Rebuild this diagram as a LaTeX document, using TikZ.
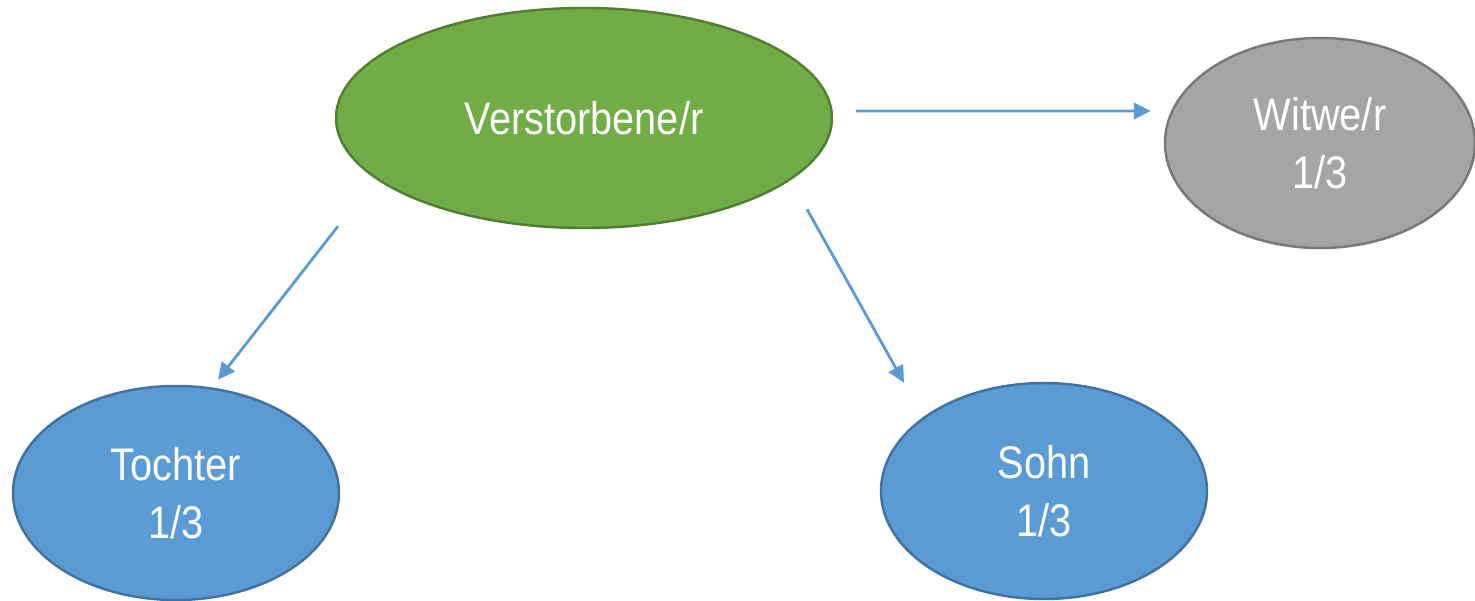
\documentclass[tikz,border=0pt]{standalone}
\usepackage{fontspec}
\usepackage{tikz}
\usetikzlibrary{shapes.geometric,arrows.meta}
\usepackage{xcolor}
\newfontfamily\labelfont{Liberation Sans}[FakeStretch=0.87]
\definecolor{greenfill}{HTML}{70AD47}
\definecolor{greenline}{HTML}{507E32}
\definecolor{grayfill}{HTML}{A5A5A5}
\definecolor{grayline}{HTML}{787878}
\definecolor{bluefill}{HTML}{5B9BD5}
\definecolor{blueline}{HTML}{41719C}
\definecolor{arrowblue}{HTML}{5B9BD5}

\tikzset{
  person/.style={ellipse, inner sep=0pt, line width=0.7pt, text=white, align=center,
    font=\labelfont\fontsize{13}{16.5}\selectfont},
  share/.style={-{Triangle[length=4.8pt,width=4.6pt]}, draw=arrowblue, line width=0.8pt}
}

\begin{document}
\begin{tikzpicture}

  % bounding box
  \useasboundingbox (0,0) rectangle (14.75,6);

  % deceased
  \node [person, fill=greenfill, draw=greenline, minimum width=4.96cm, minimum height=2.2cm]
    (verst) at (5.84, 4.82) {Verstorbene/r};

  % heirs
  \node [person, fill=grayfill, draw=grayline, minimum width=3.1cm, minimum height=2.1cm]
    (witwe) at (13.20, 4.57) {Witwe/r\\1/3};
  \node [person, fill=bluefill, draw=blueline, minimum width=3.26cm, minimum height=2.14cm]
    (tochter) at (1.76, 1.07) {Tochter\\1/3};
  \node [person, fill=bluefill, draw=blueline, minimum width=3.26cm, minimum height=2.16cm]
    (sohn) at (10.44, 1.09) {Sohn\\1/3};

  % arrows
  \draw [share] ([shift={(0.23,0.07)}]verst.east) -- ([shift={(-0.13,0.32)}]witwe.west);
  \draw [share] ([shift={(-2.46,0.03)}]verst.south) -- ([shift={(0.42,0.05)}]tochter.north);
  \draw [share] ([shift={(2.23,0.20)}]verst.south) -- ([shift={(-1.40,-0.01)}]sohn.north);

\end{tikzpicture}
\end{document}
